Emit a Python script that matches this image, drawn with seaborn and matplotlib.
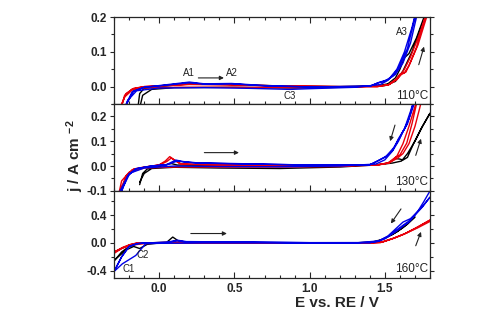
import matplotlib
matplotlib.use("Agg")
import matplotlib.pyplot as plt
from matplotlib.ticker import MultipleLocator
import seaborn as sns

# ---- data: potential E (V) and current density j (A cm-2), one list per curve ----
# 110 C
e_110_black = [-0.15, -0.13, -0.10, 0.0, 0.2, 0.5, 0.8, 1.2, 1.45, 1.52, 1.57, 1.60, 1.63, 1.66, 1.71, 1.76, 1.80,
               1.74, 1.68, 1.62, 1.57, 1.50, 1.2, 0.9, 0.5, 0.1, -0.05, -0.11, -0.14]
j_110_black = [-0.09, -0.02, -0.005, 0.0, 0.008, 0.006, 0.002, 0.0, 0.002, 0.008, 0.025, 0.05, 0.083, 0.095, 0.14, 0.20, 0.235,
               0.17, 0.10, 0.045, 0.015, 0.003, -0.002, -0.004, -0.002, -0.003, -0.008, -0.025, -0.08]
e_110_red = [-0.30, -0.26, -0.22, -0.17, -0.10, 0.2, 0.45, 0.8, 1.2, 1.45, 1.52, 1.57, 1.60, 1.63, 1.66, 1.71, 1.76, 1.80,
             1.77, 1.72, 1.67, 1.63, 1.58, 1.52, 1.3, 0.9, 0.5, 0.1, -0.1, -0.18, -0.23, -0.27, -0.30,
             -0.26, -0.23, -0.18, -0.10, 0.2, 0.45, 0.8, 1.2, 1.45, 1.53, 1.58, 1.61, 1.64, 1.67, 1.72, 1.77, 1.80]
j_110_red = [-0.16, -0.06, -0.02, -0.005, 0.0, 0.007, 0.006, 0.002, 0.0, 0.0, 0.005, 0.02, 0.036, 0.04, 0.06, 0.113, 0.19, 0.24,
             0.2, 0.14, 0.085, 0.05, 0.02, 0.004, -0.001, -0.003, -0.002, -0.002, -0.004, -0.01, -0.03, -0.08, -0.16,
             -0.07, -0.025, -0.007, 0.0, 0.006, 0.005, 0.002, 0.0, 0.0, 0.006, 0.022, 0.035, 0.042, 0.07, 0.12, 0.19, 0.23]
e_110_blue = [-0.28, -0.22, -0.18, -0.10, 0.0, 0.2, 0.3, 0.48, 0.7, 1.0, 1.4, 1.45, 1.50, 1.55, 1.60, 1.65, 1.70, 1.72,
              1.68, 1.63, 1.58, 1.52, 1.47, 1.3, 1.0, 0.87, 0.6, 0.3, 0.0, -0.15, -0.21, -0.28,
              -0.21, -0.17, -0.10, 0.0, 0.2, 0.3, 0.48, 0.7, 1.0, 1.4, 1.46, 1.52, 1.57, 1.62, 1.67, 1.71, 1.73]
j_110_blue = [-0.15, -0.05, -0.015, -0.002, 0.003, 0.013, 0.008, 0.009, 0.003, -0.001, 0.001, 0.01, 0.016, 0.03, 0.06, 0.11, 0.2, 0.24,
              0.17, 0.10, 0.05, 0.018, 0.006, -0.002, -0.006, -0.008, -0.005, -0.003, -0.004, -0.012, -0.04, -0.15,
              -0.045, -0.013, -0.002, 0.002, 0.011, 0.007, 0.008, 0.002, -0.001, 0.001, 0.012, 0.02, 0.035, 0.068, 0.125, 0.2, 0.24]

# 130 C
e_130_black = [-0.13, -0.11, -0.08, 0.0, 0.05, 0.08, 0.12, 0.3, 0.7, 1.2, 1.45, 1.52, 1.57, 1.60, 1.62, 1.65, 1.69, 1.74, 1.80,
               1.75, 1.70, 1.65, 1.61, 1.55, 1.45, 1.2, 0.8, 0.4, 0.1, -0.05, -0.10, -0.13]
j_130_black = [-0.075, -0.03, -0.012, -0.002, 0.006, 0.01, 0.004, 0.003, 0.0, 0.0, 0.005, 0.012, 0.03, 0.028, 0.024, 0.035, 0.09, 0.15, 0.213,
               0.16, 0.10, 0.05, 0.02, 0.012, 0.005, -0.004, -0.01, -0.008, -0.005, -0.01, -0.03, -0.065]
e_130_red = [-0.30, -0.26, -0.22, -0.18, -0.10, 0.0, 0.04, 0.07, 0.10, 0.14, 0.3, 0.7, 1.2, 1.45, 1.52, 1.57, 1.60, 1.645, 1.68, 1.71, 1.73,
             1.70, 1.66, 1.62, 1.58, 1.53, 1.45, 1.2, 0.8, 0.4, 0.1, -0.1, -0.2, -0.25, -0.30,
             -0.25, -0.21, -0.17, -0.10, 0.0, 0.05, 0.08, 0.11, 0.15, 0.3, 0.7, 1.2, 1.45, 1.53, 1.58, 1.62, 1.66, 1.70, 1.73, 1.75]
j_130_red = [-0.2, -0.1, -0.04, -0.015, -0.005, 0.005, 0.02, 0.038, 0.025, 0.008, 0.006, 0.003, 0.002, 0.005, 0.012, 0.035, 0.045, 0.092, 0.17, 0.25, 0.3,
             0.24, 0.16, 0.09, 0.04, 0.012, 0.004, -0.002, -0.004, -0.004, -0.004, -0.008, -0.025, -0.06, -0.2,
             -0.09, -0.035, -0.012, -0.004, 0.004, 0.018, 0.032, 0.02, 0.008, 0.005, 0.003, 0.002, 0.004, 0.014, 0.03, 0.05, 0.09, 0.16, 0.23, 0.28]
e_130_blue = [-0.30, -0.25, -0.21, -0.16, -0.05, 0.05, 0.11, 0.16, 0.25, 0.5, 1.0, 1.4, 1.44, 1.50, 1.555, 1.59, 1.62, 1.65, 1.69, 1.71,
              1.67, 1.63, 1.59, 1.55, 1.50, 1.44, 1.2, 0.8, 0.4, 0.1, -0.1, -0.2, -0.26, -0.30,
              -0.24, -0.20, -0.15, -0.05, 0.05, 0.12, 0.17, 0.25, 0.5, 1.0, 1.4, 1.45, 1.51, 1.56, 1.60, 1.63, 1.66, 1.70, 1.72]
j_130_blue = [-0.2, -0.1, -0.04, -0.012, 0.0, 0.006, 0.024, 0.018, 0.013, 0.01, 0.004, 0.005, 0.017, 0.035, 0.065, 0.1, 0.139, 0.17, 0.254, 0.3,
              0.22, 0.15, 0.11, 0.06, 0.025, 0.008, 0.0, -0.003, -0.002, 0.0, -0.008, -0.03, -0.1, -0.2,
              -0.085, -0.035, -0.01, 0.0, 0.005, 0.02, 0.016, 0.012, 0.009, 0.004, 0.005, 0.02, 0.04, 0.075, 0.115, 0.15, 0.19, 0.26, 0.3]

# 160 C
e_160_black = [-0.30, -0.25, -0.20, -0.15, -0.10, 0.05, 0.09, 0.13, 0.2, 0.5, 1.0, 1.4, 1.48, 1.55, 1.62, 1.70,
               1.65, 1.58, 1.50, 1.45, 1.3, 0.8, 0.3, 0.0, -0.08, -0.13, -0.17, -0.22, -0.30]
j_160_black = [-0.26, -0.13, -0.05, -0.015, 0.0, 0.01, 0.085, 0.025, 0.01, 0.005, 0.0, 0.005, 0.05, 0.12, 0.22, 0.375,
               0.27, 0.16, 0.07, 0.02, 0.0, 0.0, 0.0, 0.0, -0.02, -0.08, -0.05, -0.1, -0.25]
e_160_red = [-0.30, -0.25, -0.20, -0.15, 0.0, 0.1, 0.5, 1.0, 1.4, 1.47, 1.55, 1.62, 1.70, 1.80,
             1.72, 1.64, 1.56, 1.48, 1.3, 0.8, 0.3, 0.0, -0.10, -0.18, -0.24, -0.30,
             -0.24, -0.19, -0.14, 0.0, 0.1, 0.5, 1.0, 1.4, 1.48, 1.56, 1.64, 1.72, 1.80]
j_160_red = [-0.15, -0.08, -0.03, 0.0, 0.005, 0.01, 0.005, 0.0, 0.0, 0.005, 0.06, 0.12, 0.21, 0.33,
             0.23, 0.14, 0.07, 0.015, 0.0, 0.0, 0.0, 0.0, -0.01, -0.03, -0.07, -0.13,
             -0.06, -0.02, 0.0, 0.004, 0.008, 0.004, 0.0, 0.0, 0.01, 0.07, 0.14, 0.22, 0.31]
e_160_blue = [-0.30, -0.25, -0.20, -0.15, -0.10, 0.05, 0.12, 0.18, 0.5, 1.0, 1.4, 1.45, 1.50, 1.57, 1.62, 1.66, 1.70, 1.75, 1.80,
              1.74, 1.67, 1.62, 1.58, 1.52, 1.46, 1.3, 0.8, 0.3, 0.0, -0.09, -0.156, -0.245, -0.30,
              -0.25, -0.20, -0.14, -0.10, 0.05, 0.12, 0.18, 0.5, 1.0, 1.4, 1.46, 1.52, 1.58, 1.63, 1.67, 1.72, 1.76, 1.80]
j_160_blue = [-0.41, -0.2, -0.05, -0.01, 0.0, 0.01, 0.04, 0.02, 0.015, 0.005, 0.005, 0.02, 0.06, 0.16, 0.24, 0.3, 0.4, 0.52, 0.66,
              0.5, 0.35, 0.3, 0.22, 0.1, 0.03, 0.0, 0.0, 0.0, -0.005, -0.01, -0.18, -0.3, -0.41,
              -0.2, -0.05, -0.01, 0.0, 0.008, 0.03, 0.015, 0.012, 0.004, 0.005, 0.03, 0.09, 0.19, 0.27, 0.33, 0.46, 0.6, 0.75]

temperatures = ["110°C", "130°C", "160°C"]
colors = {"black": "#000000", "red": "#e8000b", "blue": "#0000e6"}

# ---- style ----
sns.set_style("ticks")
plt.rcParams["font.family"] = ["Liberation Sans", "DejaVu Sans"]
plt.rcParams["axes.unicode_minus"] = False
plt.rcParams["mathtext.fontset"] = "custom"
plt.rcParams["mathtext.rm"] = "Liberation Sans:bold"
plt.rcParams["mathtext.bf"] = "Liberation Sans:bold"
plt.rcParams["mathtext.it"] = "Liberation Sans:bold"

fig, axes = plt.subplots(3, 1, figsize=(4.96, 3.11), dpi=100, sharex=True)
fig.subplots_adjust(left=0.23, right=0.867, top=0.945, bottom=0.107, hspace=0)

panels = [
    [(e_110_black, j_110_black, "black"), (e_110_red, j_110_red, "red"), (e_110_blue, j_110_blue, "blue")],
    [(e_130_black, j_130_black, "black"), (e_130_red, j_130_red, "red"), (e_130_blue, j_130_blue, "blue")],
    [(e_160_black, j_160_black, "black"), (e_160_red, j_160_red, "red"), (e_160_blue, j_160_blue, "blue")],
]
ylims = [(-0.05, 0.2), (-0.1, 0.25), (-0.5, 0.75)]
majors = [0.1, 0.1, 0.4]
minors = [0.05, 0.05, 0.2]

for ax, curves, ylim, mj, mn in zip(axes, panels, ylims, majors, minors):
    for e, j, c in curves:
        sns.lineplot(x=e, y=j, ax=ax, color=colors[c], lw=1.0, sort=False, estimator=None)
    ax.set_xlim(-0.3, 1.8)
    ax.set_ylim(*ylim)
    ax.xaxis.set_major_locator(MultipleLocator(0.5))
    ax.xaxis.set_minor_locator(MultipleLocator(0.1))
    ax.yaxis.set_major_locator(MultipleLocator(mj))
    ax.yaxis.set_minor_locator(MultipleLocator(mn))
    ax.tick_params(which="both", direction="in", right=True, top=False, width=0.8)
    ax.tick_params(which="major", length=4)
    ax.tick_params(which="minor", length=2)
    ax.tick_params(axis="y", which="major", direction="out", left=True, length=3, pad=2)
    ax.tick_params(axis="y", which="minor", direction="out", left=True, length=2)
    ax.tick_params(axis="y", which="both", right=True)
    for s in ax.spines.values():
        s.set_linewidth(0.9)
        s.set_visible(True)
    for lab in ax.get_yticklabels():
        lab.set_fontweight("bold")
        lab.set_fontsize(8.5)
    ax.set_xlabel("")
    ax.set_ylabel("")

axes[0].tick_params(which="both", top=True)
for lab in axes[2].get_xticklabels():
    lab.set_fontweight("bold")
    lab.set_fontsize(8.5)

txt = dict(fontsize=7, color="#222222")
arr = dict(arrowstyle="-|>", color="#222222", lw=0.8, mutation_scale=6, shrinkA=0, shrinkB=0)

# 110 C annotations
ax = axes[0]
ax.text(0.2, 0.038, "A1", ha="center", va="center", **txt)
ax.text(0.48, 0.038, "A2", ha="center", va="center", **txt)
ax.annotate("", xy=(0.43, 0.025), xytext=(0.26, 0.025), arrowprops=arr)
ax.text(0.87, -0.027, "C3", ha="center", va="center", **txt)
ax.text(1.61, 0.158, "A3", ha="center", va="center", **txt)
ax.annotate("", xy=(1.76, 0.115), xytext=(1.725, 0.063), arrowprops=arr)
ax.text(1.79, -0.027, temperatures[0], ha="right", va="center", fontsize=8.5, color="#222222")

# 130 C annotations
ax = axes[1]
ax.annotate("", xy=(0.53, 0.054), xytext=(0.3, 0.054), arrowprops=arr)
ax.annotate("", xy=(1.535, 0.1), xytext=(1.567, 0.165), arrowprops=arr)
ax.annotate("", xy=(1.74, 0.11), xytext=(1.705, 0.043), arrowprops=arr)
ax.text(1.785, -0.064, temperatures[1], ha="right", va="center", fontsize=8.5, color="#222222")

# 160 C annotations
ax = axes[2]
ax.annotate("", xy=(0.45, 0.136), xytext=(0.21, 0.136), arrowprops=arr)
ax.annotate("", xy=(1.54, 0.28), xytext=(1.607, 0.49), arrowprops=arr)
ax.annotate("", xy=(1.74, 0.16), xytext=(1.705, -0.04), arrowprops=arr)
ax.text(-0.11, -0.18, "C2", ha="center", va="center", **txt)
ax.text(-0.205, -0.37, "C1", ha="center", va="center", **txt)
ax.text(1.79, -0.38, temperatures[2], ha="right", va="center", fontsize=8.5, color="#222222")

fig.text(0.151, 0.5, r"j / A cm $^{-2}$", rotation=90, ha="center", va="center",
         fontsize=11, fontweight="bold")
fig.text(0.68, 0.026, "E vs. RE / V", ha="center", va="center", fontsize=11, fontweight="bold")

fig.savefig("out.png", dpi=100)
